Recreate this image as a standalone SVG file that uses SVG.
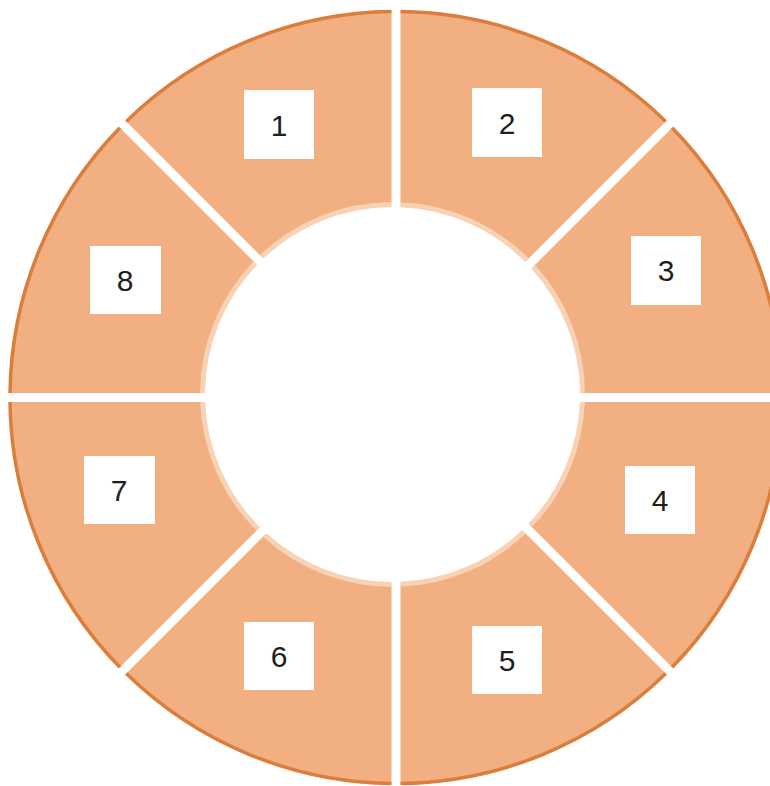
<svg xmlns="http://www.w3.org/2000/svg" width="770" height="786" viewBox="0 0 770 786">
<style>
.seg{fill:#F2AF81;stroke:none}
.outer{fill:none;stroke:#DB7E3B;stroke-width:3.5}
.inner{fill:none;stroke:#F8D2B5;stroke-width:5}
.box{fill:#FFFFFF}
.lbl{font-family:"Liberation Sans",Arial,sans-serif;font-size:30px;fill:#1E1E1E;text-anchor:middle}
</style>
<rect width="770" height="786" fill="#FFFFFF"/>
<g id="connectors"></g>
<g id="seg1">
<path class="seg" d="M126.26 121.39 A386 386 0 0 1 391.5 11.53 L391.5 204.5 A190 190 0 0 0 261.62 256.76 Z"/>
<path class="outer" d="M126.26 121.39 A386 386 0 0 1 391.5 11.53"/>
<path class="inner" d="M391.5 204.5 A190 190 0 0 0 261.62 256.76"/>
<rect class="box" x="244" y="90" width="70" height="69"/>
<text class="lbl" x="279" y="136">1</text>
</g>
<g id="seg2">
<path class="seg" d="M400.5 11.53 A386 386 0 0 1 665.74 121.39 L526.92 260.22 A190 190 0 0 0 400.5 204.67 Z"/>
<path class="outer" d="M400.5 11.53 A386 386 0 0 1 665.74 121.39"/>
<path class="inner" d="M526.92 260.22 A190 190 0 0 0 400.5 204.67"/>
<rect class="box" x="472" y="88" width="70" height="69"/>
<text class="lbl" x="507" y="134">2</text>
</g>
<g id="seg3">
<path class="seg" d="M672.11 127.76 A386 386 0 0 1 781.97 393 L582.49 393 A190 190 0 0 0 533.13 266.73 Z"/>
<path class="outer" d="M672.11 127.76 A386 386 0 0 1 781.97 393"/>
<path class="inner" d="M582.49 393 A190 190 0 0 0 533.13 266.73"/>
<rect class="box" x="631" y="236" width="70" height="69"/>
<text class="lbl" x="666" y="281">3</text>
</g>
<g id="seg4">
<path class="seg" d="M781.97 402 A386 386 0 0 1 672.11 667.24 L530.24 525.38 A190 190 0 0 0 582.35 402 Z"/>
<path class="outer" d="M781.97 402 A386 386 0 0 1 672.11 667.24"/>
<path class="inner" d="M530.24 525.38 A190 190 0 0 0 582.35 402"/>
<rect class="box" x="625" y="466" width="70" height="68"/>
<text class="lbl" x="660" y="511">4</text>
</g>
<g id="seg5">
<path class="seg" d="M665.74 673.61 A386 386 0 0 1 400.5 783.47 L400.5 584.33 A190 190 0 0 0 523.89 531.75 Z"/>
<path class="outer" d="M665.74 673.61 A386 386 0 0 1 400.5 783.47"/>
<path class="inner" d="M400.5 584.33 A190 190 0 0 0 523.89 531.75"/>
<rect class="box" x="472" y="626" width="70" height="68"/>
<text class="lbl" x="507" y="671">5</text>
</g>
<g id="seg6">
<path class="seg" d="M391.5 783.47 A386 386 0 0 1 126.26 673.61 L264.74 535.12 A190 190 0 0 0 391.5 584.5 Z"/>
<path class="outer" d="M391.5 783.47 A386 386 0 0 1 126.26 673.61"/>
<path class="inner" d="M264.74 535.12 A190 190 0 0 0 391.5 584.5"/>
<rect class="box" x="244" y="622" width="70" height="68"/>
<text class="lbl" x="279" y="667">6</text>
</g>
<g id="seg7">
<path class="seg" d="M119.89 667.24 A386 386 0 0 1 10.03 402 L202.65 402 A190 190 0 0 0 258.22 528.92 Z"/>
<path class="outer" d="M119.89 667.24 A386 386 0 0 1 10.03 402"/>
<path class="inner" d="M202.65 402 A190 190 0 0 0 258.22 528.92"/>
<rect class="box" x="84" y="456" width="71" height="68"/>
<text class="lbl" x="119" y="501">7</text>
</g>
<g id="seg8">
<path class="seg" d="M10.03 393 A386 386 0 0 1 119.89 127.76 L255.25 263.11 A190 190 0 0 0 202.51 393 Z"/>
<path class="outer" d="M10.03 393 A386 386 0 0 1 119.89 127.76"/>
<path class="inner" d="M255.25 263.11 A190 190 0 0 0 202.51 393"/>
<rect class="box" x="90" y="246" width="71" height="68"/>
<text class="lbl" x="125" y="291">8</text>
</g>
</svg>
